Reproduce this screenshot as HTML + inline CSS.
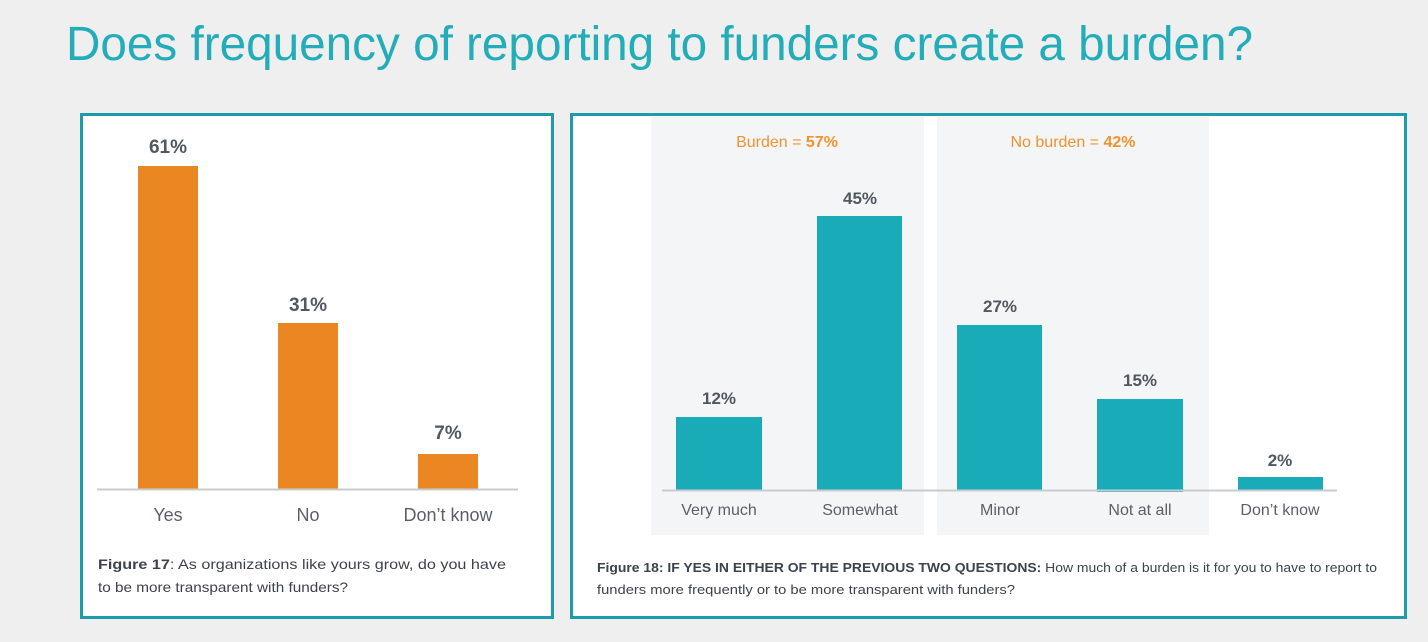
<!DOCTYPE html>
<html><head><meta charset="utf-8"><style>
html,body{margin:0;padding:0;background:#efefef;}
svg{display:block;font-family:"Liberation Sans",sans-serif;}
</style></head><body>
<svg width="1428" height="642" viewBox="0 0 1428 642" xmlns="http://www.w3.org/2000/svg">
<rect width="1428" height="642" fill="#efefef"/>
<text x="66" y="60" font-size="48" fill="#22adb9" textLength="1187" lengthAdjust="spacingAndGlyphs">Does frequency of reporting to funders create a burden?</text>

<!-- left panel -->
<rect x="81.5" y="114.5" width="471" height="503" fill="#fff" stroke="#1e9bab" stroke-width="3"/>
<rect x="138" y="166" width="60" height="323" fill="#ea8723"/>
<rect x="278" y="323" width="60" height="166" fill="#ea8723"/>
<rect x="418" y="454" width="60" height="35" fill="#ea8723"/>
<line x1="97" y1="489.5" x2="518" y2="489.5" stroke="#c8cbd0" stroke-width="2"/>
<g font-size="19" font-weight="bold" fill="#505860" text-anchor="middle">
<text x="168" y="153">61%</text><text x="308" y="311">31%</text><text x="448" y="439">7%</text>
</g>
<g font-size="18" fill="#5a6068" text-anchor="middle">
<text x="168" y="521">Yes</text><text x="308" y="521">No</text><text x="448" y="521">Don’t know</text>
</g>
<g font-size="14" fill="#3c434a">
<text x="98" y="569" textLength="408" lengthAdjust="spacingAndGlyphs"><tspan font-weight="bold">Figure 17</tspan>: As organizations like yours grow, do you have</text>
<text x="98" y="592" textLength="250" lengthAdjust="spacingAndGlyphs">to be more transparent with funders?</text>
</g>

<!-- right panel -->
<rect x="571.5" y="114.5" width="834" height="503" fill="#fff" stroke="#1e9bab" stroke-width="3"/>
<rect x="651" y="117" width="273" height="418" fill="#f4f5f7"/>
<rect x="937" y="117" width="272" height="418" fill="#f4f5f7"/>
<g font-size="16" fill="#f0922e" text-anchor="middle">
<text x="787" y="147">Burden = <tspan font-weight="bold">57%</tspan></text>
<text x="1073" y="147">No burden = <tspan font-weight="bold">42%</tspan></text>
</g>
<g fill="#1aabb9">
<rect x="676" y="417" width="86" height="73"/>
<rect x="817" y="216" width="85" height="274"/>
<rect x="957" y="325" width="85" height="165"/>
<rect x="1097" y="399" width="86" height="93"/>
<rect x="1238" y="477" width="85" height="13"/>
</g>
<line x1="662" y1="490.5" x2="1337" y2="490.5" stroke="#c8cbd0" stroke-width="2"/>
<g font-size="17" font-weight="bold" fill="#505860" text-anchor="middle">
<text x="719" y="404">12%</text><text x="860" y="204">45%</text><text x="1000" y="312">27%</text>
<text x="1140" y="386">15%</text><text x="1280" y="466">2%</text>
</g>
<g font-size="16" fill="#5a6068" text-anchor="middle">
<text x="719" y="515">Very much</text><text x="860" y="515">Somewhat</text><text x="1000" y="515">Minor</text>
<text x="1140" y="515">Not at all</text><text x="1280" y="515">Don’t know</text>
</g>
<g font-size="12.5" fill="#3c434a">
<text x="597" y="572" textLength="780" lengthAdjust="spacingAndGlyphs"><tspan font-weight="bold">Figure 18: IF YES IN EITHER OF THE PREVIOUS TWO QUESTIONS:</tspan> How much of a burden is it for you to have to report to</text>
<text x="597" y="594" textLength="418" lengthAdjust="spacingAndGlyphs">funders more frequently or to be more transparent with funders?</text>
</g>
</svg>
</body></html>
